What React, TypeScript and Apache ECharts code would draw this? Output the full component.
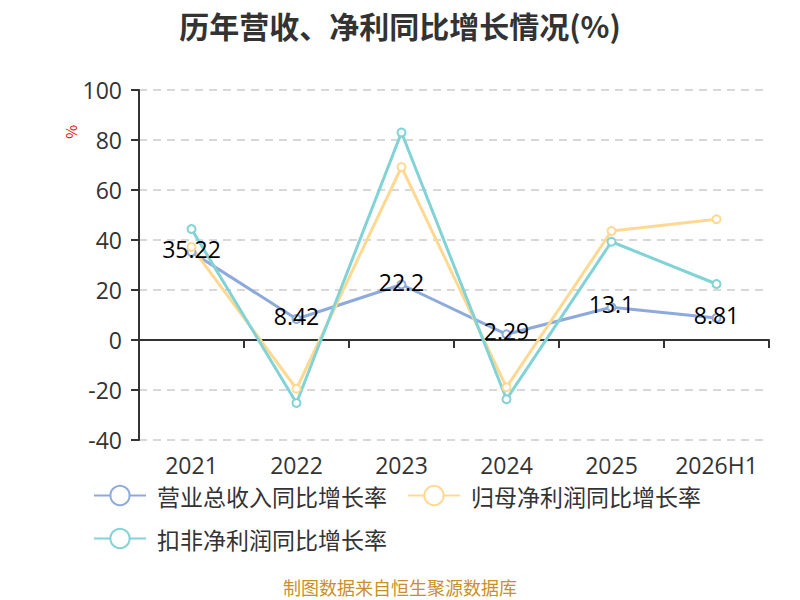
import React, { useEffect, useRef } from 'react';
import * as echarts from 'echarts';

const categories = ['2021', '2022', '2023', '2024', '2025', '2026H1'];
const revenueGrowth = [35.22, 8.42, 22.2, 2.29, 13.1, 8.81];
const netProfitGrowth = [37.2, -19.5, 69.2, -18.9, 43.6, 48.3];
const deductedProfitGrowth = [44.4, -25.2, 83, -23.7, 39.3, 22.4];
const seriesNames = ['营业总收入同比增长率', '归母净利润同比增长率', '扣非净利润同比增长率'];
const seriesColors = ['#8eaadc', '#ffd992', '#82d3d5'];

const FONT = '"Noto Sans CJK SC", "Noto Sans", sans-serif';
const NUM_FONT = '"Open Sans", "Noto Sans CJK SC", sans-serif';

export default function App() {
  const chartRef = useRef<HTMLDivElement>(null);

  useEffect(() => {
    document.body.style.margin = '0';
    if (!chartRef.current) return;
    const chart = echarts.init(chartRef.current, null, { renderer: 'svg' });

    const makeSeries = (name: string, data: number[], color: string, withLabel: boolean) => ({
      name,
      type: 'line' as const,
      data,
      symbol: 'emptyCircle',
      symbolSize: 8,
      lineStyle: { width: 3, color },
      itemStyle: { color, borderWidth: 2 },
      label: withLabel
        ? {
            show: true,
            position: 'inside' as const,
            offset: [0, -3],
            color: '#000',
            fontSize: 23,
            fontFamily: NUM_FONT,
          }
        : { show: false },
    });

    chart.setOption({
      animation: false,
      backgroundColor: '#fff',
      title: {
        text: '历年营收、净利同比增长情况(%)',
        left: 'center',
        top: 5,
        textStyle: { fontSize: 30, fontWeight: 'bold', color: '#333', fontFamily: FONT },
      },
      grid: { left: 139, right: 31, top: 90, bottom: 160, containLabel: false },
      legend: {
        left: 88,
        top: 479,
        width: 650,
        itemWidth: 52,
        itemHeight: 24,
        itemGap: 20,
        textStyle: { fontSize: 23, color: '#333', fontFamily: FONT, padding: [0, 0, 0, 6] },
        data: seriesNames,
      },
      xAxis: {
        type: 'category',
        data: categories,
        axisLine: { onZero: true, lineStyle: { color: '#333', width: 2 } },
        axisTick: { show: true, length: 8, lineStyle: { color: '#333', width: 2 } },
        axisLabel: {
          fontSize: 23,
          color: '#333',
          fontFamily: NUM_FONT,
          margin: 13,
          interval: 0,
        },
      },
      yAxis: {
        type: 'value',
        min: -40,
        max: 100,
        interval: 20,
        axisLine: { show: true, lineStyle: { color: '#333', width: 2 } },
        axisTick: { show: true, length: 8, lineStyle: { color: '#333', width: 2 } },
        axisLabel: { fontSize: 23, color: '#333', fontFamily: NUM_FONT, margin: 17 },
        splitLine: { show: true, lineStyle: { color: '#ccc', type: [8, 6], width: 1.5 } },
      },
      graphic: [
        {
          type: 'text',
          x: 80,
          y: 125,
          rotation: -Math.PI / 2,
          style: { text: '%', fill: '#e00', fontSize: 15, fontFamily: FONT },
        },
        {
          type: 'text',
          left: 'center',
          top: 578,
          style: { text: '制图数据来自恒生聚源数据库', fill: '#c8902a', fontSize: 18, fontFamily: FONT },
        },
      ],
      series: [
        makeSeries(seriesNames[0], revenueGrowth, seriesColors[0], true),
        makeSeries(seriesNames[1], netProfitGrowth, seriesColors[1], false),
        makeSeries(seriesNames[2], deductedProfitGrowth, seriesColors[2], false),
      ],
    });

    return () => {
      chart.dispose();
    };
  }, []);

  return <div ref={chartRef} style={{ width: 800, height: 600 }} />;
}
